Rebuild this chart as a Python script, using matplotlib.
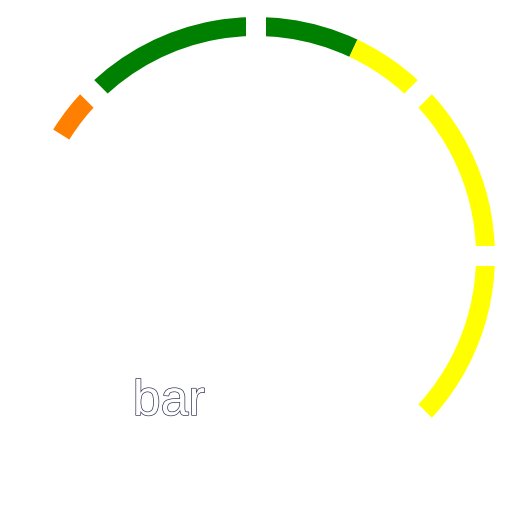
import matplotlib
matplotlib.use("Agg")
import matplotlib.pyplot as plt
import matplotlib.patheffects as pe
from matplotlib.patches import Wedge
import numpy as np

# gauge runs from 225 deg (value 0) clockwise to -45 deg (value 1)
start_angle = 225
end_angle = -45
# colour stops along the axis line (fraction of the sweep)
stops = [0.285, 0.333, 0.593, 1.0]
stop_colors = ["none", "#FF8000", "#008000", "#FFFF00"]
split_count = 6
title = "bar"

# layout in pixels
W = 512
cx, cy = 256, 256
r_out, band = 239, 19
gap_px = 20

fig = plt.figure(figsize=(W / 100, W / 100), dpi=100)
ax = fig.add_axes([0, 0, 1, 1])
ax.set_xlim(0, W)
ax.set_ylim(0, W)
ax.set_aspect("equal")
ax.axis("off")

sweep = start_angle - end_angle
prev = 0.0
for stop, col in zip(stops, stop_colors):
    a1 = start_angle - sweep * stop
    a2 = start_angle - sweep * prev
    if col != "none":
        ax.add_patch(Wedge((cx, cy), r_out, a1, a2, width=band,
                           facecolor=col, edgecolor="none"))
    prev = stop

# white split lines cut gaps in the band
for k in range(split_count + 1):
    ang = np.deg2rad(start_angle - sweep * k / split_count)
    r0, r1 = r_out - band - 5, r_out + 5
    ax.plot([cx + r0 * np.cos(ang), cx + r1 * np.cos(ang)],
            [cy + r0 * np.sin(ang), cy + r1 * np.sin(ang)],
            color="white", linewidth=gap_px * 0.72, solid_capstyle="butt")

ax.text(169, 97, title, color="white", fontsize=36, family="Liberation Sans",
        ha="center", va="baseline",
        path_effects=[pe.withStroke(linewidth=1.0, foreground="#333355")])

fig.savefig("out.png", dpi=100)
